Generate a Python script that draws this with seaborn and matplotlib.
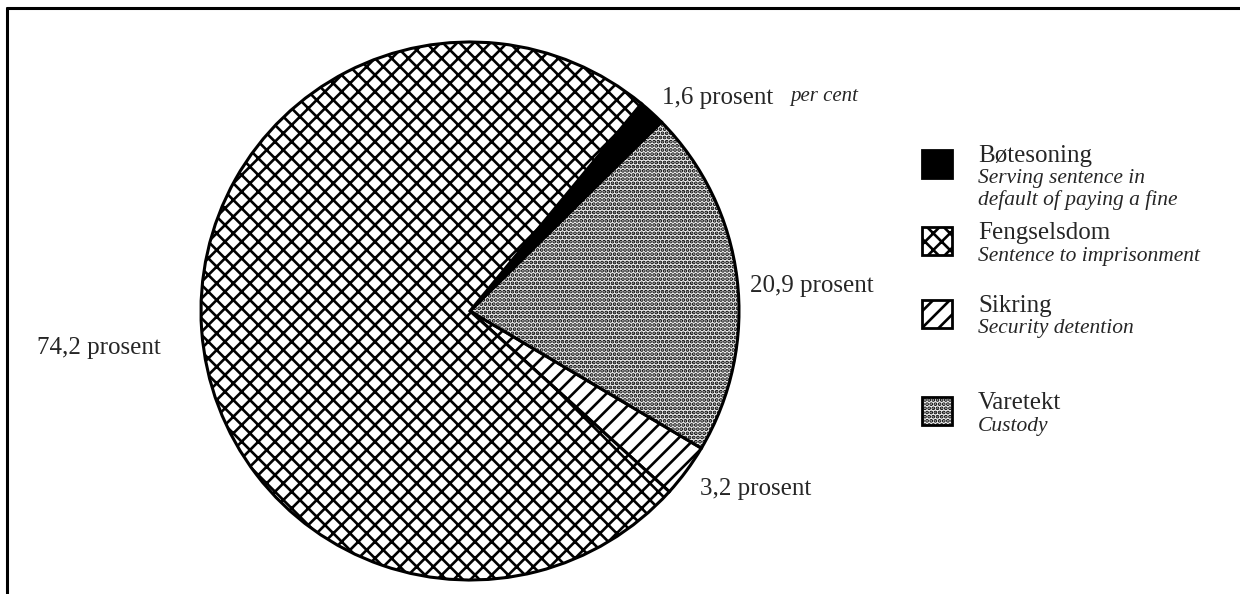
import matplotlib
matplotlib.use("Agg")
import matplotlib.pyplot as plt
import seaborn as sns
from matplotlib.patches import Rectangle

# Data
categories = ["Bøtesoning", "Fengselsdom", "Sikring", "Varetekt"]
english = [["Serving sentence in", "default of paying a fine"],
           ["Sentence to imprisonment"],
           ["Security detention"],
           ["Custody"]]
shares = [1.6, 74.2, 3.2, 20.9]
share_labels = ["1,6 prosent", "74,2 prosent", "3,2 prosent", "20,9 prosent"]

# pie is drawn counter-clockwise starting with Sikring
pie_order = ["Sikring", "Varetekt", "Bøtesoning", "Fengselsdom"]

# styles
face = {"Bøtesoning": "black", "Fengselsdom": "white", "Sikring": "white", "Varetekt": "#f0f0f0"}
hatch = {"Bøtesoning": "", "Fengselsdom": "xx", "Sikring": "//", "Varetekt": "...."}

sns.set_style("white")
plt.rcParams["font.family"] = ["Liberation Serif", "DejaVu Serif"]
plt.rcParams["hatch.linewidth"] = 1.9

W, H = 1240, 594
fig = plt.figure(figsize=(12.4, 5.94), dpi=100)
ax = fig.add_axes([0, 0, 1, 1])

vals = [shares[categories.index(c)] for c in pie_order]
wedges, _ = ax.pie(vals, center=(470, H - 311), radius=269, startangle=-42.2,
                   counterclock=True, frame=True,
                   wedgeprops=dict(edgecolor="black", linewidth=2.2))
for w, c in zip(wedges, pie_order):
    w.set_facecolor(face[c])
    w.set_hatch(hatch[c])
ax.set_xlim(0, W)
ax.set_ylim(0, H)
ax.set_aspect("auto")
ax.axis("off")

# percentage labels
lab_pos = {"Bøtesoning": (662, 98), "Fengselsdom": (37, 348),
           "Sikring": (700, 489), "Varetekt": (750, 286)}
for c, t in zip(categories, share_labels):
    x, y = lab_pos[c]
    ax.text(x, H - y, t, fontsize=18, va="center", ha="left")
ax.text(790, H - 97, "per cent", fontsize=15, style="italic", va="center", ha="left")

# legend
sw_top = {"Bøtesoning": 150, "Fengselsdom": 227, "Sikring": 300, "Varetekt": 397}
for c, e in zip(categories, english):
    top = sw_top[c]
    ax.add_patch(Rectangle((922, H - top - 28), 30, 28, facecolor=face[c],
                           hatch=hatch[c], edgecolor="black", linewidth=2))
    ax.text(978, H - top - 6, c, fontsize=18, va="center", ha="left")
    for i, line in enumerate(e):
        ax.text(978, H - top - 29 - 21 * i, line, fontsize=15.5, style="italic",
                va="center", ha="left")

# frame (top and left only)
ax.plot([7, W], [H - 8, H - 8], color="black", linewidth=2.2)
ax.plot([7, 7], [0, H - 8], color="black", linewidth=2.2)

fig.savefig("out.png", dpi=100, facecolor="white")
